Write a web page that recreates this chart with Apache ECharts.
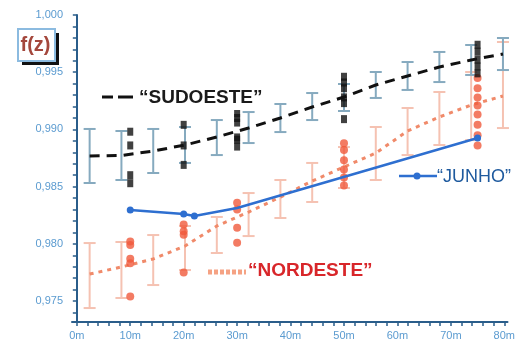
<!DOCTYPE html>
<html>
<head>
<meta charset="utf-8">
<script src="https://cdn.jsdelivr.net/npm/echarts@6/dist/echarts.min.js"></script>
<style>html,body{margin:0;padding:0;background:#fff}#c{width:518px;height:345px}</style>
</head>
<body>
<div id="c"></div>
<script>
// ---- data ----
const xTickLabels = [0, 10, 20, 30, 40, 50, 60, 70, 80];
const yTickLabels = [0.975, 0.980, 0.985, 0.990, 0.995, 1.000];

// positions of the error-bar bands (m)
const bandX = [2.4, 8.35, 14.3, 20.25, 26.2, 32.15, 38.1, 44.05, 50, 55.95, 61.9, 67.85, 73.8, 79.75];

// SUDOESTE model line + band
const sudLine = [0.98768, 0.98772, 0.98811, 0.98864, 0.98934, 0.99012, 0.99100, 0.99196, 0.99283, 0.99388, 0.99467, 0.99545, 0.99607, 0.99659];
const sudLow  = [0.98532, 0.98558, 0.98619, 0.98707, 0.98776, 0.98881, 0.98977, 0.99082, 0.99161, 0.99275, 0.99345, 0.99414, 0.99476, 0.99519];
const sudHigh = [0.99004, 0.98986, 0.99004, 0.99021, 0.99082, 0.99152, 0.99222, 0.99318, 0.99397, 0.99502, 0.99589, 0.99677, 0.99738, 0.99799];

// NORDESTE model line + band
const norLine = [0.97736, 0.97798, 0.97868, 0.97981, 0.98156, 0.98278, 0.98409, 0.98549, 0.98672, 0.98794, 0.98986, 0.99109, 0.99213, 0.99292];
const norLow  = [0.97439, 0.97527, 0.97640, 0.97771, 0.97920, 0.98068, 0.98226, 0.98366, 0.98488, 0.98558, 0.98776, 0.98864, 0.98907, 0.99012];
const norHigh = [0.98007, 0.98016, 0.98077, 0.98156, 0.98235, 0.98444, 0.98558, 0.98707, 0.98846, 0.99021, 0.99187, 0.99327, 0.99502, 0.99764];

// measured points
const sudPtsX = [10, 10, 10, 10, 20, 20, 20, 30, 30, 30, 30, 30, 30, 50, 50, 50, 50, 50, 50, 75, 75, 75, 75, 75];
const sudPtsY = [0.9898, 0.9886, 0.9860, 0.9853, 0.9904, 0.9886, 0.9869, 0.9914, 0.9910, 0.9906, 0.9893, 0.9891, 0.9885, 0.9946, 0.9941, 0.9936, 0.9928, 0.9923, 0.9909, 0.9974, 0.9968, 0.9961, 0.9955, 0.9949];
const norPtsX = [10, 10, 10, 10, 10, 20, 20, 20, 20, 30, 30, 30, 30, 50, 50, 50, 50, 50, 50, 75, 75, 75, 75, 75, 75, 75, 75];
const norPtsY = [0.9802, 0.9799, 0.9787, 0.9783, 0.9754, 0.9817, 0.9811, 0.9808, 0.9775, 0.9836, 0.9830, 0.9814, 0.9801, 0.9888, 0.9882, 0.9873, 0.9865, 0.9858, 0.9851, 0.9945, 0.9936, 0.9928, 0.9921, 0.9913, 0.9904, 0.9895, 0.9886];

// JUNHO
const junX = [10, 20, 22, 30, 75];
const junY = [0.98296, 0.98261, 0.98243, 0.98313, 0.98925];

// ---- chart ----
const chart = echarts.init(document.getElementById('c'), null, {renderer: 'canvas'});

function errBar(color, cap) {
  return function (params, api) {
    const x = api.value(0), lo = api.value(1), hi = api.value(2);
    const a = api.coord([x, lo]), b = api.coord([x, hi]);
    const st = {stroke: color, lineWidth: 2};
    return {type: 'group', children: [
      {type: 'line', shape: {x1: a[0], y1: a[1], x2: b[0], y2: b[1]}, style: st},
      {type: 'line', shape: {x1: a[0] - cap, y1: a[1], x2: a[0] + cap, y2: a[1]}, style: st},
      {type: 'line', shape: {x1: b[0] - cap, y1: b[1], x2: b[0] + cap, y2: b[1]}, style: st}
    ]};
  };
}

const xMinor = []; for (let v = 0; v <= 80; v += 2) xMinor.push(v);
const yMinor = []; for (let k = 974; k <= 1000; k++) yMinor.push(k / 1000);

const axisColor = '#2a5d8a';
const labelColor = '#5b9bd0';
const FONT = 'Liberation Sans, Arial, sans-serif';

chart.setOption({
  animation: false,
  backgroundColor: '#ffffff',
  grid: {left: 72, right: 0, top: 15, bottom: 23, containLabel: false},
  xAxis: {
    type: 'value', min: -0.9, max: 80.6,
    axisLine: {lineStyle: {color: axisColor, width: 2}},
    axisTick: {customValues: xMinor, length: 4, lineStyle: {color: axisColor, width: 1.5}},
    axisLabel: {customValues: xTickLabels, formatter: v => Math.round(v) + 'm', color: labelColor, fontSize: 11, fontFamily: FONT, margin: 8},
    splitLine: {show: false}
  },
  yAxis: {
    type: 'value', min: 0.97317, max: 1.0,
    axisLine: {show: true, lineStyle: {color: axisColor, width: 2}},
    axisTick: {show: true, customValues: yMinor, length: 4, lineStyle: {color: axisColor, width: 1.5}},
    axisLabel: {customValues: yTickLabels, formatter: v => v.toFixed(3).replace('.', ','), color: labelColor, fontSize: 11, fontFamily: FONT, margin: 9},
    splitLine: {show: false}
  },
  series: [
    {type: 'custom', z: 1, renderItem: errBar('#f5c2b2', 6), data: bandX.map((x, i) => [x, norLow[i], norHigh[i]]), silent: true},
    {type: 'custom', z: 2, renderItem: errBar('#86aabf', 6), data: bandX.map((x, i) => [x, sudLow[i], sudHigh[i]]), silent: true},
    {type: 'line', z: 3, data: bandX.map((x, i) => [x, norLine[i]]), symbol: 'none', lineStyle: {color: '#f08a6a', width: 3, type: [4, 5]}},
    {type: 'line', z: 4, data: bandX.map((x, i) => [x, sudLine[i]]), symbol: 'none', lineStyle: {color: '#111', width: 3, type: [10, 7]}},
    {type: 'scatter', z: 5, data: norPtsX.map((x, i) => [x, norPtsY[i]]), symbol: 'circle', symbolSize: 8, itemStyle: {color: '#f05a3c'}},
    {type: 'scatter', z: 6, data: sudPtsX.map((x, i) => [x, sudPtsY[i]]), symbol: 'rect', symbolSize: [6, 8], itemStyle: {color: '#111'}},
    {type: 'line', z: 7, data: junX.map((x, i) => (i === 3 ? {value: [x, junY[i]], symbol: 'none'} : [x, junY[i]])),
      symbol: 'circle', symbolSize: 7, itemStyle: {color: '#2e6fd0'}, lineStyle: {color: '#2e6fd0', width: 2.5}}
  ],
  graphic: [
    // f(z) box
    {type: 'rect', left: 22, top: 33, shape: {width: 37, height: 32}, style: {fill: '#111'}, z: 100},
    {type: 'rect', left: 17, top: 28, shape: {width: 37, height: 32}, style: {fill: '#fff', stroke: '#8cbbe0', lineWidth: 2}, z: 101},
    {type: 'text', x: 35.5, y: 45, style: {text: 'f(z)', fill: '#a4473c', font: 'bold 20px ' + FONT, align: 'center', verticalAlign: 'middle'}, z: 102},
    // SUDOESTE legend
    {type: 'rect', shape: {x: 136, y: 86, width: 132, height: 24}, style: {fill: '#fff'}, z: 100},
    {type: 'line', shape: {x1: 102, y1: 97, x2: 113, y2: 97}, style: {stroke: '#111', lineWidth: 3}, z: 101},
    {type: 'line', shape: {x1: 118, y1: 97, x2: 133, y2: 97}, style: {stroke: '#111', lineWidth: 3}, z: 101},
    {type: 'text', x: 139, y: 98, style: {text: '\u201cSUDOESTE\u201d', fill: '#1a1a1a', font: 'bold 19px ' + FONT, verticalAlign: 'middle'}, z: 102},
    // JUNHO legend
    {type: 'rect', shape: {x: 435, y: 164, width: 83, height: 24}, style: {fill: '#fff'}, z: 100},
    {type: 'line', shape: {x1: 399, y1: 176, x2: 437, y2: 176}, style: {stroke: '#2e6fd0', lineWidth: 2.5}, z: 101},
    {type: 'circle', shape: {cx: 417, cy: 176, r: 3.5}, style: {fill: '#2e6fd0'}, z: 101},
    {type: 'text', x: 437, y: 177, style: {text: '\u201cJUNHO\u201d', fill: '#1e5a9e', font: '18px ' + FONT, verticalAlign: 'middle'}, z: 102},
    // NORDESTE legend
    {type: 'rect', shape: {x: 245, y: 258, width: 130, height: 26}, style: {fill: '#fff'}, z: 100},
    {type: 'line', shape: {x1: 208, y1: 272, x2: 246, y2: 272}, style: {stroke: '#f5a283', lineWidth: 5, lineDash: [4, 2]}, z: 101},
    {type: 'text', x: 248, y: 271, style: {text: '\u201cNORDESTE\u201d', fill: '#d8262a', font: 'bold 19px ' + FONT, verticalAlign: 'middle'}, z: 102}
  ]
});
</script>
</body>
</html>
